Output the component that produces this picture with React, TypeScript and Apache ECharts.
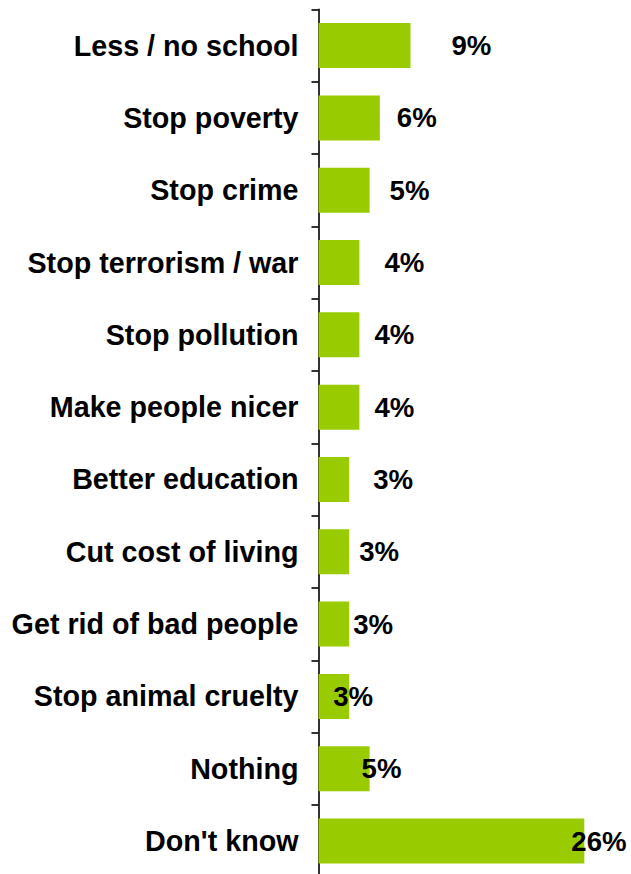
import React, { useEffect, useRef } from "react";
import * as echarts from "echarts";

const categories = [
  "Less / no school",
  "Stop poverty",
  "Stop crime",
  "Stop terrorism / war",
  "Stop pollution",
  "Make people nicer",
  "Better education",
  "Cut cost of living",
  "Get rid of bad people",
  "Stop animal cruelty",
  "Nothing",
  "Don't know",
];
const values = [9, 6, 5, 4, 4, 4, 3, 3, 3, 3, 5, 26];

// horizontal nudges of the value labels (layout only)
const labelNudge = [41, 17, 20, 25, 15, 15, 24, 10, 4, -16, -8, -13];

const FONT = "'Liberation Sans', Arial, Helvetica, sans-serif";

export default function App() {
  const ref = useRef<HTMLDivElement>(null);
  useEffect(() => {
    if (!ref.current) return;
    const chart = echarts.init(ref.current, undefined, { renderer: "svg" });
    chart.setOption({
      animation: false,
      backgroundColor: "#ffffff",
      grid: { left: 318.5, right: 5.8, top: 9.4, bottom: 0.8, containLabel: false },
      xAxis: {
        type: "value",
        min: 0,
        max: 30,
        show: false,
        splitLine: { show: false },
      },
      yAxis: {
        type: "category",
        inverse: true,
        data: categories,
        axisLine: { show: true, lineStyle: { color: "#000000", width: 1.6 } },
        axisTick: { show: true, inside: false, length: 7, lineStyle: { color: "#000000", width: 1.6 } },
        axisLabel: {
          margin: 20,
          color: "#000000",
          fontSize: 28.7,
          fontWeight: "bold",
          fontFamily: FONT,
        },
        splitLine: { show: false },
      },
      series: [
        {
          type: "bar",
          barWidth: 45,
          itemStyle: { color: "#99CC00" },
          data: values.map((v, i) => ({
            value: v,
            label: { offset: [labelNudge[i], 0] },
          })),
          label: {
            show: true,
            position: "right",
            distance: 0,
            formatter: (p: any) => `${p.value}%`,
            color: "#000000",
            fontSize: 27.6,
            fontWeight: "bold",
            fontFamily: FONT,
          },
        },
      ],
    });
    return () => chart.dispose();
  }, []);
  return (
    <div
      ref={ref}
      style={{ position: "fixed", left: 0, top: 0, width: 631, height: 878, background: "#fff" }}
    />
  );
}
